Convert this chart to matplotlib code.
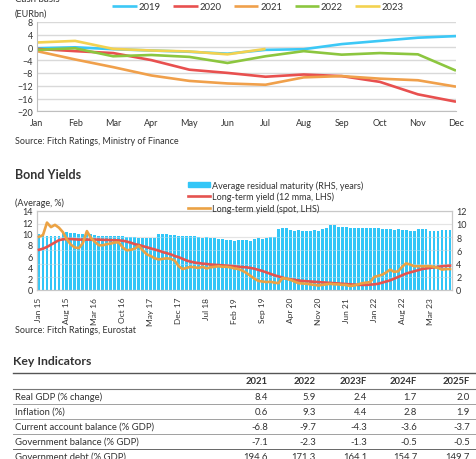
import matplotlib
matplotlib.use("Agg")
import matplotlib.pyplot as plt
import numpy as np
from matplotlib.lines import Line2D
from matplotlib.patches import Patch

plt.rcParams['font.family'] = ['Lato', 'DejaVu Sans']
plt.rcParams['font.size'] = 6.5
plt.rcParams['text.color'] = '#333333'
plt.rcParams['axes.labelcolor'] = '#333333'
plt.rcParams['xtick.color'] = '#333333'
plt.rcParams['ytick.color'] = '#333333'

# ---- cash basis chart ----
months = ["Jan", "Feb", "Mar", "Apr", "May", "Jun", "Jul", "Aug", "Sep", "Oct", "Nov", "Dec"]
cash_2019 = [-0.3, 0.0, -0.6, -1.0, -1.4, -2.0, -0.8, -0.6, 1.0, 2.0, 3.0, 3.5]
cash_2020 = [-0.5, -1.2, -1.8, -4.0, -7.0, -8.0, -9.2, -8.5, -9.0, -10.8, -14.7, -17.0]
cash_2021 = [-1.2, -3.8, -6.2, -8.8, -10.5, -11.3, -11.7, -9.4, -9.0, -9.8, -10.3, -12.3]
cash_2022 = [-0.8, -0.3, -2.8, -2.4, -3.0, -4.9, -2.8, -1.2, -2.3, -1.8, -2.2, -7.3]
cash_2023 = [1.5, 2.0, -0.5, -1.0, -1.3, -2.2, -0.5]
cash_colors = {"2019": "#3cc8f6", "2020": "#e8504f", "2021": "#f0a04b",
               "2022": "#8cc63f", "2023": "#f3d250"}

# ---- bond yields chart (monthly, Jan 2015 - Aug 2023) ----
maturity = [8.4, 8.4, 8.2, 8.1, 8.1, 8.1, 8.6, 8.8, 8.7, 8.6, 8.5, 8.5,
            8.4, 8.4, 8.3, 8.2, 8.2, 8.1, 8.2, 8.2, 8.2, 8.1, 8.0, 8.0,
            8.0, 7.9, 7.9, 7.9, 7.9, 7.8, 8.5, 8.5, 8.4, 8.3, 8.3, 8.2,
            8.2, 8.1, 8.1, 8.1, 8.0, 7.9, 8.0, 7.9, 7.8, 7.7, 7.7, 7.6,
            7.6, 7.45, 7.5, 7.6, 7.5, 7.45, 7.7, 7.8, 7.7, 7.9, 8.0, 8.0,
            9.3, 9.4, 9.4, 9.1, 9.0, 9.1, 9.0, 8.95, 9.0, 9.1, 9.0, 9.2,
            9.4, 9.9, 9.8, 9.55, 9.5, 9.5, 9.4, 9.45, 9.4, 9.45, 9.4, 9.35,
            9.45, 9.4, 9.3, 9.25, 9.2, 9.1, 9.2, 9.15, 9.15, 9.0, 8.95, 9.3,
            9.3, 9.25, 9.0, 9.0, 8.95, 9.1, 9.15, 9.15]
yield_12mma = [7.1, 7.3, 7.6, 8.0, 8.4, 8.8, 8.95, 9.0, 9.0, 8.95, 8.9, 8.9,
               8.9, 8.9, 8.9, 8.9, 8.85, 8.85, 8.8, 8.8, 8.75, 8.7, 8.55, 8.35,
               8.1, 7.95, 7.75, 7.55, 7.35, 7.15, 6.95, 6.7, 6.5, 6.3, 6.0, 5.8,
               5.5, 5.2, 5.0, 4.85, 4.75, 4.65, 4.6, 4.5, 4.45, 4.4, 4.35, 4.3,
               4.25, 4.2, 4.1, 4.05, 4.0, 3.9, 3.75, 3.55, 3.35, 3.1, 2.85, 2.6,
               2.4, 2.2, 2.0, 1.9, 1.8, 1.7, 1.6, 1.55, 1.5, 1.45, 1.4, 1.35,
               1.3, 1.25, 1.2, 1.15, 1.1, 1.05, 1.0, 0.95, 0.9, 0.9, 0.9, 0.95,
               1.0, 1.1, 1.3, 1.5, 1.7, 2.0, 2.3, 2.6, 2.9, 3.1, 3.3, 3.5,
               3.7, 3.8, 3.9, 4.0, 4.1, 4.2, 4.25, 4.3]
yield_spot = [9.4, 9.7, 11.9, 11.1, 11.5, 11.0, 10.2, 8.9, 8.0, 7.5, 7.4, 8.3,
              10.4, 9.2, 8.5, 7.9, 7.9, 8.1, 8.2, 8.4, 8.4, 7.5, 7.0, 7.1,
              7.3, 7.8, 7.0, 6.3, 6.0, 5.6, 5.4, 5.5, 5.6, 5.5, 5.2, 4.2,
              3.7, 3.9, 4.1, 4.0, 3.9, 4.1, 3.8, 4.0, 4.1, 4.2, 4.1, 4.1,
              4.0, 3.8, 3.7, 3.4, 3.0, 2.5, 2.0, 1.6, 1.5, 1.4, 1.45, 1.3,
              1.2, 2.1, 2.0, 1.8, 1.5, 1.2, 1.15, 1.1, 1.0, 0.9, 0.8, 0.9,
              1.0, 1.1, 1.0, 1.0, 0.9, 0.9, 0.7, 0.8, 1.0, 1.2, 1.3, 1.4,
              2.3, 2.5, 2.7, 3.1, 3.6, 3.2, 3.3, 4.1, 4.7, 4.5, 4.2, 4.2,
              4.2, 4.2, 4.2, 4.1, 3.9, 3.6, 3.7, 3.7]
bond_ticks = ["Jan 15", "Aug 15", "Mar 16", "Oct 16", "May 17", "Dec 17", "Jul 18",
              "Feb 19", "Sep 19", "Apr 20", "Nov 20", "Jun 21", "Jan 22", "Aug 22", "Mar 23"]

# ---- key indicators ----
ind_years = ["2021", "2022", "2023F", "2024F", "2025F"]
ind_names = ["Real GDP (% change)", "Inflation (%)", "Current account balance (% GDP)",
             "Government balance (% GDP)", "Government debt (% GDP)"]
ind_values = [["8.4", "5.9", "2.4", "1.7", "2.0"],
              ["0.6", "9.3", "4.4", "2.8", "1.9"],
              ["-6.8", "-9.7", "-4.3", "-3.6", "-3.7"],
              ["-7.1", "-2.3", "-1.3", "-0.5", "-0.5"],
              ["194.6", "171.3", "164.1", "154.7", "149.7"]]

W, H = 476, 460
fig = plt.figure(figsize=(W / 100, H / 100), dpi=100)

def fx(px):
    return px / W

def fy(py):
    return 1 - py / H

grid_c = "#d9d9d9"

# top chart
ax1 = fig.add_axes([fx(37), fy(112.3), fx(419), (112.3 - 22.7) / H])
for name, vals in [("2019", cash_2019), ("2020", cash_2020), ("2021", cash_2021),
                   ("2022", cash_2022), ("2023", cash_2023)]:
    ax1.plot(range(len(vals)), vals, color=cash_colors[name], lw=1.9, label=name,
             solid_capstyle="butt")
ax1.set_xlim(0, 11)
ax1.set_ylim(-20, 8)
ax1.set_yticks(np.arange(-20, 9, 4))
ax1.set_xticks(range(12))
ax1.set_xticklabels(months)
ax1.grid(axis="y", color=grid_c, lw=1.0)
ax1.set_axisbelow(True)
for s in ["top", "right"]:
    ax1.spines[s].set_visible(False)
for s in ["left", "bottom"]:
    ax1.spines[s].set_color("#bfbfbf")
ax1.tick_params(length=0, pad=3)
ax1.tick_params(axis="x", pad=5)
fig.legend(*ax1.get_legend_handles_labels(), loc="center", ncol=5,
           bbox_to_anchor=(fx(258), fy(8)), frameon=False, handlelength=2.6,
           handletextpad=0.2, columnspacing=1.3, fontsize=6.8)
fig.text(fx(15), fy(1.5), "Cash basis", fontsize=7, va="baseline")
fig.text(fx(15), fy(14), "(EURbn)", fontsize=6.5, va="center")
fig.text(fx(15), fy(141), "Source: Fitch Ratings, Ministry of Finance", fontsize=6.5, va="center")

# bond yields chart
fig.text(fx(15), fy(175), "Bond Yields", fontsize=9, fontweight="bold", va="center")
fig.text(fx(15), fy(203), "(Average, %)", fontsize=6.5, va="center")
ax2 = fig.add_axes([fx(37), fy(291), fx(415), (291 - 211.7) / H])
ax3 = ax2.twinx()
x = np.arange(len(maturity))
ax3.bar(x, maturity, width=0.72, color="#33c6f7", zorder=1)
ax3.set_ylim(0, 12)
ax3.set_yticks(np.arange(0, 13, 2))
for yv in np.arange(2, 13, 2):
    ax3.axhline(yv, color="white", lw=0.6, alpha=0.35, zorder=2)
ax2.set_zorder(ax3.get_zorder() + 1)
ax2.patch.set_visible(False)
ax2.plot(x, yield_12mma, color="#e5534f", lw=1.9, zorder=3)
ax2.plot(x, yield_spot, color="#eba244", lw=1.9, zorder=4)
ax2.set_ylim(0, 14)
ax2.set_yticks(np.arange(0, 15, 2))
ax2.set_xlim(-0.5, len(maturity) - 0.5)
ax2.set_xticks(np.arange(0, len(maturity), 7)[:len(bond_ticks)])
ax2.set_xticklabels(bond_ticks, rotation=90, fontsize=6.0)
ax3.grid(axis="y", color=grid_c, lw=0.8, zorder=0)
ax3.set_axisbelow(True)
for a in (ax2, ax3):
    for s in a.spines.values():
        s.set_color("#c8c8c8")
    a.tick_params(length=0, pad=3)
ax2.tick_params(axis="x", pad=5)
handles = [Patch(color="#33c6f7"), Line2D([], [], color="#e5534f", lw=1.9),
           Line2D([], [], color="#eba244", lw=1.9)]
labels = ["Average residual maturity (RHS, years)", "Long-term yield (12 mma, LHS)",
          "Long-term yield (spot, LHS)"]
fig.legend(handles, labels, loc="upper left", bbox_to_anchor=(fx(182), fy(175)),
           frameon=False, handlelength=2.4, handleheight=0.5, handletextpad=0.2,
           labelspacing=0.2, fontsize=6.5, borderpad=0.2)
fig.text(fx(15), fy(331), "Source: Fitch Ratings, Eurostat", fontsize=6.5, va="center")

# key indicators table
fig.text(fx(13), fy(362), "Key Indicators", fontsize=8.8, fontweight="bold", va="center")
col_right = [268, 316, 367, 417, 470]

def hline(py, color, lw):
    fig.add_artist(Line2D([fx(13), 1.0], [fy(py), fy(py)], color=color, lw=lw))

hline(373.5, "#555555", 1.0)
for c, yr in zip(col_right, ind_years):
    fig.text(fx(c), fy(381.5), yr, fontsize=6.8, fontweight="bold", ha="right", va="center")
hline(389.5, "#777777", 0.8)
row_y = 397.5
for i, (name, vals) in enumerate(zip(ind_names, ind_values)):
    ry = row_y + i * 15
    fig.text(fx(15), fy(ry), name, fontsize=6.8, va="center")
    for c, v in zip(col_right, vals):
        fig.text(fx(c), fy(ry), v, fontsize=6.8, ha="right", va="center")
    hline(ry + 7.5, "#a0a0a0" if i < 3 else "#666666", 0.7)

fig.savefig("out.png", dpi=100)
